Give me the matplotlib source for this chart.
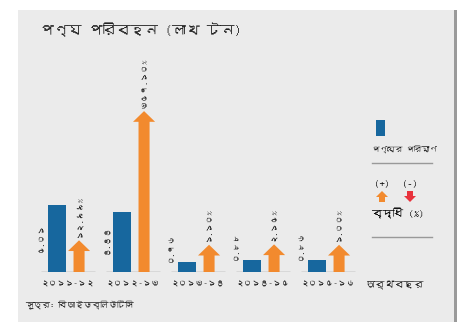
import matplotlib
matplotlib.use('Agg')
import matplotlib.pyplot as plt
from matplotlib import font_manager
from matplotlib.patches import Rectangle, Polygon

# look for any installed font that has Bengali glyphs
beng_font = None
try:
    from fontTools.ttLib import TTFont
    for f in font_manager.fontManager.ttflist:
        try:
            tt = TTFont(f.fname, fontNumber=0, lazy=True)
            if 0x09AA in tt.getBestCmap():
                beng_font = f.name
                break
        except Exception:
            pass
except Exception:
    pass
families = ([beng_font] if beng_font else []) + ['DejaVu Sans']
plt.rcParams['font.family'] = families

# data
years = ['২০১১-১২', '২০১২-১৩', '২০১৩-১৪', '২০১৪-১৫', '২০১৫-১৬']
volume = [5.01, 4.44, 0.76, 0.88, 0.86]
volume_labels = ['৫.০১', '৪.৪৪', '০.৭৬', '০.৮৮', '০.৮৬']
growth = [12.99, 357.10, 1.10, 2.15, 1.00]
growth_labels = ['১২.৯৯%', '৩৫৭.১০%', '১.১০%', '২.১৫%', '১.০০%']

blue = '#17679e'
orange = '#f28a2e'
red = '#e8323c'
panel = '#ebebeb'

fig = plt.figure(figsize=(4.64, 3.22), dpi=100)
fig.patch.set_facecolor('white')
fig.patches.append(Rectangle((18 / 464, 0), 437 / 464, 312 / 322, transform=fig.transFigure,
                             facecolor=panel, edgecolor='none', zorder=-2))
fig.patches.append(Rectangle((454 / 464, 0), 3 / 464, 312 / 322, transform=fig.transFigure,
                             facecolor='#9a9a9a', edgecolor='none', zorder=-2))

ax = fig.add_axes([0, 50 / 322, 1, 232 / 322])
ax.set_xlim(-1.046, 6.092)
ax.set_ylim(0, 17.3)
ax.axis('off')

off = 0.17
w = 0.27
for i, (v, vl, g, gl, yr) in enumerate(zip(volume, volume_labels, growth, growth_labels, years)):
    ax.bar(i - off, v, width=w, color=blue, zorder=2)
    ax.hlines(0, i - 0.42, i + 0.42, color='#8c8c8c', lw=1, zorder=1)
    ly = v if v < 1.5 else v * 0.3
    ax.text(i - off - w / 2 - 0.06, ly, vl, rotation=90, ha='right', va='bottom',
            fontsize=6, color='#222222')
    # growth arrow
    h = 2.0 + 0.028 * g
    x0 = i + off
    sw, hw, hh = 0.085, 0.17, 0.8
    arrow = Polygon([(x0 - sw, 0), (x0 + sw, 0), (x0 + sw, h - hh), (x0 + hw, h - hh),
                     (x0, h), (x0 - hw, h - hh), (x0 - sw, h - hh)],
                    closed=True, facecolor=orange, edgecolor='none', zorder=2)
    ax.add_patch(arrow)
    ax.text(x0, h + 0.25, gl, rotation=90, ha='center', va='bottom',
            fontsize=6, color='#222222')
    ax.text(i, -0.95, yr, ha='center', va='center', fontsize=6, color='#222222')

fig.text(366 / 464, 1 - 285 / 322, 'অর্থবছর', ha='left', va='center', fontsize=7,
         fontweight='bold', color='#222222')

fig.text(40 / 464, 1 - 30 / 322, 'পণ্য পরিবহন (লাখ টন)', ha='left', va='center',
         fontsize=10, color='#222222')
fig.text(25 / 464, 1 - 305 / 322, 'সূত্র: বিআইডব্লিউটিসি', ha='left', va='center',
         fontsize=6, color='#222222')

# legend
fig.patches.append(Rectangle((376 / 464, 1 - 136 / 322), 9 / 464, 16 / 322,
                             transform=fig.transFigure, facecolor=blue, edgecolor='none'))
fig.text(372 / 464, 1 - 150 / 322, 'পণ্যের পরিমাণ', ha='left', va='center',
         fontsize=5.5, color='#222222')
fig.lines.append(plt.Line2D([372 / 464, 432 / 464], [1 - 163 / 322] * 2,
                            transform=fig.transFigure, color='#999999', lw=1))
fig.text(382 / 464, 1 - 183 / 322, '(+)', ha='center', va='center', fontsize=7.5)
fig.text(410 / 464, 1 - 183 / 322, '(-)', ha='center', va='center', fontsize=7.5)
fig.patches.append(Polygon([(379 / 464, 1 - 202 / 322), (385 / 464, 1 - 202 / 322),
                            (385 / 464, 1 - 197 / 322), (388 / 464, 1 - 197 / 322),
                            (382 / 464, 1 - 191 / 322), (376 / 464, 1 - 197 / 322),
                            (379 / 464, 1 - 197 / 322)],
                           transform=fig.transFigure, facecolor=orange, edgecolor='none'))
fig.patches.append(Polygon([(407 / 464, 1 - 191 / 322), (413 / 464, 1 - 191 / 322),
                            (413 / 464, 1 - 196 / 322), (416 / 464, 1 - 196 / 322),
                            (410 / 464, 1 - 202 / 322), (404 / 464, 1 - 196 / 322),
                            (407 / 464, 1 - 196 / 322)],
                           transform=fig.transFigure, facecolor=red, edgecolor='none'))
fig.text(372 / 464, 1 - 213 / 322, 'বৃদ্ধি (%)', ha='left', va='center', fontsize=7.5)
fig.lines.append(plt.Line2D([372 / 464, 432 / 464], [1 - 237 / 322] * 2,
                            transform=fig.transFigure, color='#999999', lw=1))

fig.savefig('out.png', dpi=100, facecolor=fig.get_facecolor())
